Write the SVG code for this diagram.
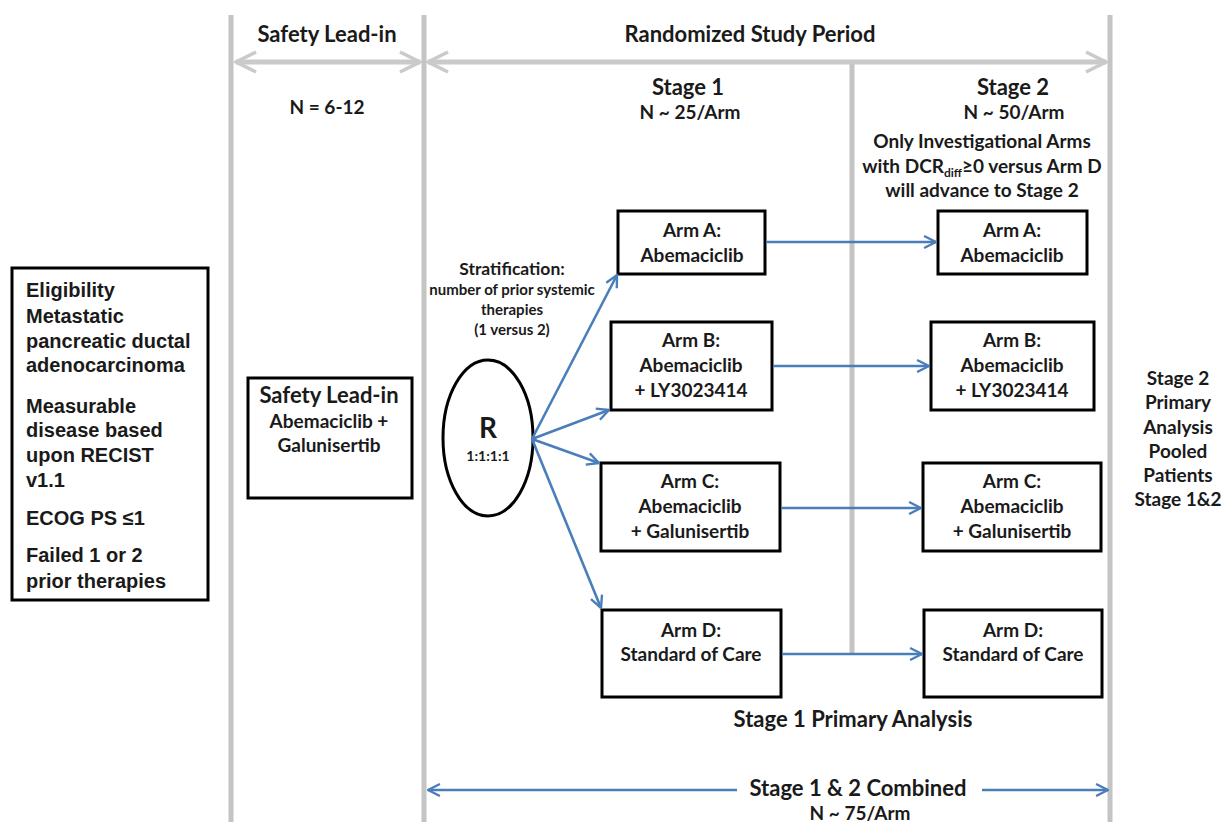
<svg xmlns="http://www.w3.org/2000/svg" width="1222" height="822" viewBox="0 0 1222 822">
<style>
.t{font-family:Lato,"Open Sans",sans-serif;font-weight:bold;fill:#1a1a1a;text-anchor:middle}
.h{font-size:22px}
.m{font-size:19px}
.a{font-size:19px}
.s{font-size:15px}
.e{font-family:"Liberation Sans",Arial,sans-serif;font-weight:bold;font-size:20px;fill:#1a1a1a}
.box{fill:#fff;stroke:#000;stroke-width:3}
.gl{stroke:#c4c4c4;stroke-width:5;fill:none}
.ga{stroke:#cacaca;stroke-width:5;fill:none}
.bl{stroke:#4a7ebb;stroke-width:2.6;fill:none}
</style>
<defs>
<marker id="ab" viewBox="0 0 12 12" refX="11" refY="6" markerWidth="5.5" markerHeight="5.5" orient="auto" markerUnits="strokeWidth">
<path d="M1,1 L11,6 L1,11" fill="none" stroke="#4a7ebb" stroke-width="2"/>
</marker>
<marker id="ag" viewBox="0 0 12 12" refX="11" refY="6" markerWidth="4.8" markerHeight="4.8" orient="auto-start-reverse" markerUnits="strokeWidth">
<path d="M1,1 L11,6 L1,11" fill="none" stroke="#cacaca" stroke-width="1.8"/>
</marker>
</defs>
<rect width="1222" height="822" fill="#fff"/>

<g id="timeline">
<line class="gl" x1="231" y1="15" x2="231" y2="822"/>
<line class="gl" x1="424" y1="15" x2="424" y2="822"/>
<line class="gl" x1="1110" y1="15" x2="1110" y2="822"/>
<line class="gl" x1="852" y1="62" x2="852" y2="653"/>
<line class="ga" x1="236" y1="62" x2="420" y2="62" marker-start="url(#ag)" marker-end="url(#ag)"/>
<line class="ga" x1="428" y1="62" x2="1106" y2="62" marker-start="url(#ag)" marker-end="url(#ag)"/>
<text class="t h" x="327" y="42">Safety Lead-in</text>
<text class="t h" x="750" y="42">Randomized Study Period</text>
<text class="t m" x="327" y="114">N = 6-12</text>
<text class="t h" x="688" y="95">Stage 1</text>
<text class="t m" x="690" y="119">N ~ 25/Arm</text>
<text class="t h" x="1013" y="95">Stage 2</text>
<text class="t m" x="1014" y="119">N ~ 50/Arm</text>
<text class="t m" x="982" y="148">Only Investigational Arms</text>
<text class="t m" x="982" y="173">with DCR<tspan font-size="12" dy="4">diff</tspan><tspan dy="-4">≥0 versus Arm D</tspan></text>
<text class="t m" x="982" y="197">will advance to Stage 2</text>
<text class="t m" x="1178" y="385">Stage 2</text>
<text class="t m" x="1178" y="409">Primary</text>
<text class="t m" x="1178" y="434">Analysis</text>
<text class="t m" x="1178" y="458">Pooled</text>
<text class="t m" x="1178" y="482">Patients</text>
<text class="t m" x="1178" y="506">Stage 1&amp;2</text>
<text class="t h" x="853" y="727">Stage 1 Primary Analysis</text>
<text class="t h" x="858" y="796">Stage 1 &amp; 2 Combined</text>
<text class="t m" x="860" y="820">N ~ 75/Arm</text>
</g>

<g id="eligibility">
<rect class="box" x="12" y="268" width="196" height="332"/>
<text class="e" x="26" y="297">Eligibility</text>
<text class="e" x="26" y="323">Metastatic</text>
<text class="e" x="26" y="348">pancreatic ductal</text>
<text class="e" x="26" y="372">adenocarcinoma</text>
<text class="e" x="26" y="413">Measurable</text>
<text class="e" x="26" y="437">disease based</text>
<text class="e" x="26" y="462">upon RECIST</text>
<text class="e" x="26" y="487">v1.1</text>
<text class="e" x="26" y="525">ECOG PS ≤1</text>
<text class="e" x="26" y="562">Failed 1 or 2</text>
<text class="e" x="26" y="588">prior therapies</text>
</g>

<g id="safety-lead-in">
<rect class="box" x="248" y="378" width="164" height="120"/>
<text class="t h" x="329" y="403">Safety Lead-in</text>
<text class="t a" x="329" y="428">Abemaciclib +</text>
<text class="t a" x="329" y="452">Galunisertib</text>
</g>

<g id="stratification">
<text class="t" font-size="17.5" x="512" y="275">Stratification:</text>
<text class="t s" x="512" y="295">number of prior systemic</text>
<text class="t s" x="512" y="315">therapies</text>
<text class="t s" x="512" y="335">(1 versus 2)</text>
</g>

<g id="randomization">
<ellipse cx="488" cy="438" rx="45" ry="78" fill="#fff" stroke="#000" stroke-width="3"/>
<text class="t" font-size="28" x="488" y="438">R</text>
<text class="t" font-size="14" x="488" y="461">1:1:1:1</text>
</g>

<g id="arm-a-s1">
<rect class="box" x="618" y="211" width="147" height="63"/>
<text class="t a" x="692" y="237">Arm A:</text>
<text class="t a" x="692" y="262">Abemaciclib</text>
</g>
<g id="arm-b-s1">
<rect class="box" x="611" y="322" width="161" height="88"/>
<text class="t a" x="691" y="347">Arm B:</text>
<text class="t a" x="691" y="372">Abemaciclib</text>
<text class="t a" x="691" y="397">+ LY3023414</text>
</g>
<g id="arm-c-s1">
<rect class="box" x="601" y="463" width="179" height="88"/>
<text class="t a" x="690" y="488">Arm C:</text>
<text class="t a" x="690" y="513">Abemaciclib</text>
<text class="t a" x="690" y="538">+ Galunisertib</text>
</g>
<g id="arm-d-s1">
<rect class="box" x="602" y="610" width="179" height="87"/>
<text class="t a" x="691" y="637">Arm D:</text>
<text class="t a" x="691" y="661">Standard of Care</text>
</g>

<g id="arm-a-s2">
<rect class="box" x="938" y="211" width="149" height="63"/>
<text class="t a" x="1012" y="237">Arm A:</text>
<text class="t a" x="1012" y="262">Abemaciclib</text>
</g>
<g id="arm-b-s2">
<rect class="box" x="931" y="322" width="163" height="88"/>
<text class="t a" x="1012" y="347">Arm B:</text>
<text class="t a" x="1012" y="372">Abemaciclib</text>
<text class="t a" x="1012" y="397">+ LY3023414</text>
</g>
<g id="arm-c-s2">
<rect class="box" x="923" y="463" width="178" height="88"/>
<text class="t a" x="1012" y="488">Arm C:</text>
<text class="t a" x="1012" y="513">Abemaciclib</text>
<text class="t a" x="1012" y="538">+ Galunisertib</text>
</g>
<g id="arm-d-s2">
<rect class="box" x="924" y="610" width="178" height="87"/>
<text class="t a" x="1013" y="637">Arm D:</text>
<text class="t a" x="1013" y="661">Standard of Care</text>
</g>

<g id="connectors">
<line class="bl" x1="532" y1="439" x2="617" y2="275" marker-end="url(#ab)"/>
<line class="bl" x1="532" y1="439" x2="609" y2="410" marker-end="url(#ab)"/>
<line class="bl" x1="532" y1="439" x2="599" y2="463" marker-end="url(#ab)"/>
<line class="bl" x1="532" y1="439" x2="601" y2="608" marker-end="url(#ab)"/>
<line class="bl" x1="766" y1="242" x2="936" y2="242" marker-end="url(#ab)"/>
<line class="bl" x1="773" y1="366" x2="929" y2="366" marker-end="url(#ab)"/>
<line class="bl" x1="781" y1="508" x2="921" y2="508" marker-end="url(#ab)"/>
<line class="bl" x1="782" y1="654" x2="922" y2="654" marker-end="url(#ab)"/>
<line class="bl" x1="737" y1="790" x2="428" y2="790" marker-end="url(#ab)"/>
<line class="bl" x1="982" y1="790" x2="1108" y2="790" marker-end="url(#ab)"/>
</g>
</svg>
